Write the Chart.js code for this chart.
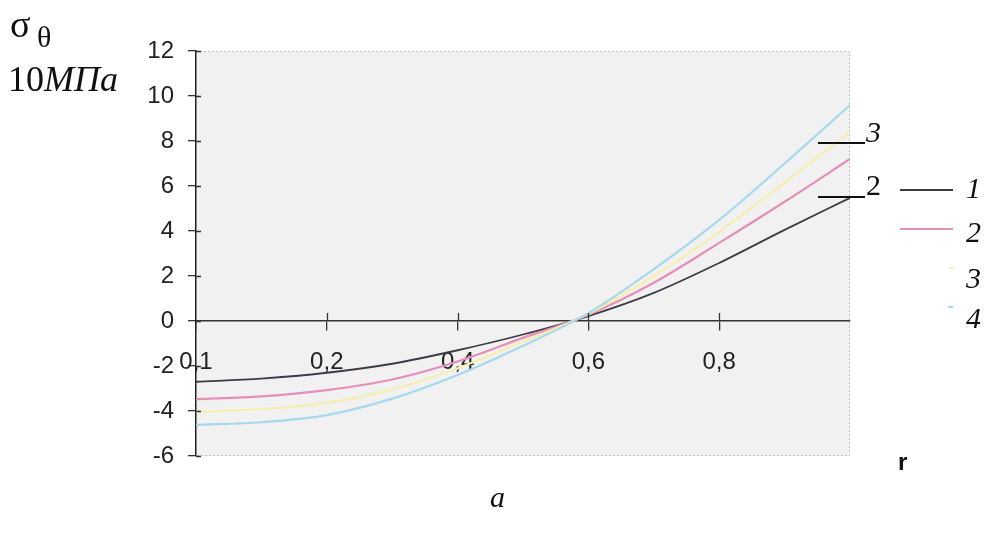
<!DOCTYPE html>
<html>
<head>
<meta charset="utf-8">
<script src="https://cdn.jsdelivr.net/npm/chart.js@4/dist/chart.umd.min.js"></script>
<style>
  body { margin: 0; background: #fff; }
  #wrap { position: relative; width: 987px; height: 543px; }
  .txt { position: absolute; line-height: 1; color: #111; white-space: nowrap; }
  .serif { font-family: "Liberation Serif", "DejaVu Serif", serif; }
  .ital { font-style: italic; }
  .mark { position: absolute; height: 0; }
</style>
</head>
<body>
<div id="wrap">
  <canvas id="sigmaChart"></canvas>
</div>
<script>
// r along the plate, and sigma_theta (in 10 MPa) for the four cases
const rValues = [0, 0.1, 0.2, 0.3, 0.4, 0.5, 0.6, 0.7, 0.8, 0.9, 1.0];
const sigma1 = [-2.7, -2.56, -2.3, -1.9, -1.3, -0.6, 0.22, 1.25, 2.58, 4.05, 5.47];
const sigma2 = [-3.47, -3.35, -3.07, -2.6, -1.8, -0.75, 0.28, 1.7, 3.47, 5.3, 7.2];
const sigma3 = [-4.04, -3.92, -3.64, -3.05, -2.1, -0.92, 0.32, 2.0, 3.95, 6.15, 8.4];
const sigma4 = [-4.62, -4.5, -4.18, -3.45, -2.4, -1.1, 0.35, 2.3, 4.49, 7.0, 9.6];

const seriesLabels = ['1', '2', '3', '4'];
const xTickLabels = ['0,1', '0,2', '0,4', '0,6', '0,8', ''];
const yTicks = [-6, -4, -2, 0, 2, 4, 6, 8, 10, 12];

const colours = ['#3c3c48', '#e58fb7', '#f5eeb0', '#a6d8ee'];

function toPoints(values) {
    return values.map((v, i) => ({ x: rValues[i], y: v }));
}

// grey plot area with a light dotted frame
const plotBackground = {
    id: 'plotBackground',
    beforeDraw(chart) {
        const { ctx, chartArea: a } = chart;
        ctx.save();
        ctx.fillStyle = '#f1f1f1';
        ctx.fillRect(a.left, a.top, a.right - a.left, a.bottom - a.top);
        ctx.strokeStyle = '#c4c4c4';
        ctx.lineWidth = 1;
        ctx.setLineDash([2, 2]);
        ctx.beginPath();
        ctx.moveTo(a.left, a.top + 0.5);
        ctx.lineTo(a.right - 0.5, a.top + 0.5);
        ctx.lineTo(a.right - 0.5, a.bottom - 0.5);
        ctx.lineTo(a.left, a.bottom - 0.5);
        ctx.stroke();
        ctx.restore();
    }
};

// tick marks crossing the axes, like the original
const crossTicks = {
    id: 'crossTicks',
    afterDatasetsDraw(chart) {
        const { ctx, scales } = chart;
        const x = scales.x, y = scales.y;
        const y0 = y.getPixelForValue(0);
        const xl = x.left;
        ctx.save();
        ctx.strokeStyle = '#333';
        ctx.lineWidth = 1.3;
        ctx.beginPath();
        x.ticks.forEach((t, i) => {
            if (i === 0 || i === x.ticks.length - 1) return;
            const px = Math.round(x.getPixelForValue(t.value)) + 0.5;
            ctx.moveTo(px, y0 - 8);
            ctx.lineTo(px, y0);
        });
        y.ticks.forEach(t => {
            const py = Math.round(y.getPixelForValue(t.value)) + 0.5;
            ctx.moveTo(xl, py);
            ctx.lineTo(xl + 5, py);
        });
        ctx.stroke();
        ctx.restore();
    }
};

const ctx = document.getElementById('sigmaChart').getContext('2d');
const datasets = [sigma4, sigma3, sigma2, sigma1].map((vals, k) => {
    const idx = 3 - k;
    return {
        label: seriesLabels[idx],
        data: toPoints(vals),
        borderColor: colours[idx],
        borderWidth: idx === 0 ? 1.8 : 2.2,
        pointRadius: 0,
        fill: false,
        cubicInterpolationMode: 'monotone'
    };
});

const sigmaChart = new Chart(ctx, {
    type: 'line',
    data: { datasets: datasets },
    options: {
        responsive: true,
        maintainAspectRatio: false,
        animation: false,
        layout: { padding: { left: 0, right: 137, top: 51, bottom: 87 } },
        plugins: { legend: { display: false }, tooltip: { enabled: false } },
        scales: {
            x: {
                type: 'linear',
                min: 0,
                max: 1,
                position: { y: 0 },
                ticks: {
                    stepSize: 0.2,
                    padding: 18,
                    color: '#222',
                    maxRotation: 0,
                    font: { family: '"Liberation Sans", Arial, sans-serif', size: 24 },
                    callback: (value, index) => xTickLabels[index]
                },
                grid: {
                    drawOnChartArea: false,
                    tickLength: 9,
                    lineWidth: 1.3,
                    tickColor: c => (c.index === 5 ? 'rgba(0,0,0,0)' : '#333')
                },
                border: { color: '#333', width: 1.5 }
            },
            y: {
                min: -6,
                max: 12,
                afterFit(scale) { scale.width = 196; },
                afterBuildTicks(scale) { scale.ticks = yTicks.map(v => ({ value: v })); },
                ticks: {
                    padding: 14,
                    color: '#222',
                    font: { family: '"Liberation Sans", Arial, sans-serif', size: 24 }
                },
                grid: { drawOnChartArea: false, tickLength: 8, color: '#333', lineWidth: 1.3 },
                border: { color: '#222', width: 1.5 }
            }
        }
    },
    plugins: [plotBackground, crossTicks]
});

// text around the chart and the hand-drawn legend
const wrap = document.getElementById('wrap');
function addText(html, cls, left, top, size, extra) {
    const d = document.createElement('div');
    d.className = 'txt ' + cls;
    d.innerHTML = html;
    d.style.left = left + 'px';
    d.style.top = top + 'px';
    d.style.fontSize = size + 'px';
    if (extra) Object.assign(d.style, extra);
    wrap.appendChild(d);
}
function addLine(left, top, width, colour, thick) {
    const d = document.createElement('div');
    d.className = 'mark';
    d.style.left = left + 'px';
    d.style.top = top + 'px';
    d.style.width = width + 'px';
    d.style.borderTop = thick + 'px solid ' + colour;
    wrap.appendChild(d);
}

addText('σ', 'serif', 10, 5, 38);
addText('θ', 'serif', 37, 22, 30);
addText('10<span class="ital">МПа</span>', 'serif', 8, 61, 36);
addText('r', '', 898, 450, 24, { fontFamily: '"Liberation Sans", Arial, sans-serif', fontWeight: 'bold' });
addText('a', 'serif ital', 490, 482, 30);

// curve annotations at the right end
addLine(818, 142, 47, '#111', 2);
addText('3', 'serif ital', 866, 117, 30);
addLine(818, 196, 47, '#111', 2);
addText('2', 'serif', 866, 170, 30);

// legend
const legendY = [189, 228, 267, 306];
const legendLabelTop = [173, 217, 263, 303];
const legendLen = [53, 53, 4, 5];
seriesLabels.forEach((lab, i) => {
    addLine(953 - legendLen[i], legendY[i], legendLen[i], colours[i], 2);
    addText(lab, 'serif ital', 966, legendLabelTop[i], 30);
});
</script>
</body>
</html>
